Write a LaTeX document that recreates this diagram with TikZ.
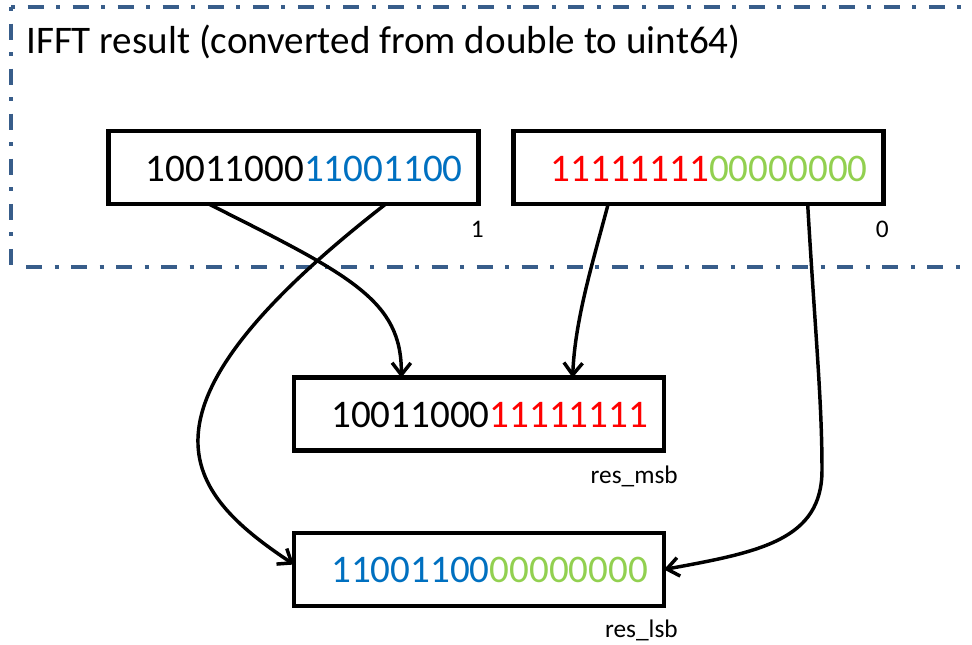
\documentclass[tikz,border=0pt]{standalone}
\usepackage{fontspec}
\setmainfont{Carlito}
\usetikzlibrary{arrows.meta,calc}
\definecolor{frameblue}{HTML}{385D8A}
\definecolor{bitblue}{HTML}{0070C0}
\definecolor{bitred}{HTML}{FF0000}
\definecolor{bitgreen}{HTML}{92D050}
\newcommand{\bigfont}{\fontsize{29.3pt}{34pt}\selectfont}
\newcommand{\smallfont}{\fontsize{19pt}{22pt}\selectfont}
\begin{document}
\begin{tikzpicture}[x=0.75pt,y=-0.75pt,
  regbox/.style={draw=black, line width=3.3pt, minimum width=277.5pt,
    minimum height=54.5pt, inner sep=0pt, outer sep=0pt},
  bits/.style={anchor=base west, inner sep=0pt, font=\bigfont},
  tag/.style={anchor=base east, inner sep=0pt, font=\smallfont},
  conn/.style={draw=black, line width=2.6pt,
    -{Straight Barb[length=9pt,width=14pt,line width=2.6pt]}},
  frameline/.style={draw=frameblue, line width=2.5pt,
    dash pattern=on 3pt off 9.4pt on 12pt off 9.4pt}
]
\useasboundingbox (0,0) rectangle (972,644);

% dash-dotted frame around the IFFT result, open on the right
\draw[frameline] (11,7) -- (972,7);
\draw[frameline] (11,7) -- (11,267);
\draw[frameline, dash pattern=on 12pt off 9.4pt on 3pt off 9.4pt] (26,267) -- (972,267);
\node[anchor=base west, inner sep=0pt, font=\bigfont] (title) at (26,53)
  {IFFT result (converted from double to uint64)};

% registers
\node[regbox] (A) at (293.5,167.5) {};
\node[regbox] (B) at (698.5,167.5) {};
\node[regbox] (C) at (479,414) {};
\node[regbox] (D) at (479,569.5) {};

\node[bits] (Abits) at ($(A.west)+(37,14)$) {10011000\textcolor{bitblue}{11001100}};
\node[bits] (Bbits) at ($(B.west)+(37,14)$) {\textcolor{bitred}{11111111}\textcolor{bitgreen}{00000000}};
\node[bits] (Cbits) at ($(C.west)+(37,13.5)$) {10011000\textcolor{bitred}{11111111}};
\node[bits] (Dbits) at ($(D.west)+(37,13)$) {\textcolor{bitblue}{11001100}\textcolor{bitgreen}{00000000}};

% index and name tags
\node[tag] (t1) at (484,237) {1};
\node[tag] (t0) at (889,237) {0};
\node[tag] (tmsb) at (678,483) {res\_msb};
\node[tag] (tlsb) at (678,637) {res\_lsb};

% bit routing
\draw[conn] ($(A.south west)!0.27!(A.south east)$)
  .. controls (350,275) and (402,300) .. ($(C.north west)!0.29!(C.north east)$);
\draw[conn] ($(A.south west)!0.75!(A.south east)$)
  .. controls (118,412) and (185,492) .. ($(D.west)+(0,-5)$);
\draw[conn] ($(B.south west)!0.256!(B.south east)$)
  .. controls (592,265) and (575,320) .. ($(C.north west)!0.753!(C.north east)$);
\draw[conn] ($(B.south west)!0.795!(B.south east)$)
  .. controls (815,330) and (822,400) .. (822,470)
  .. controls (822,540) and (760,552) .. (D.east);
\end{tikzpicture}
\end{document}
